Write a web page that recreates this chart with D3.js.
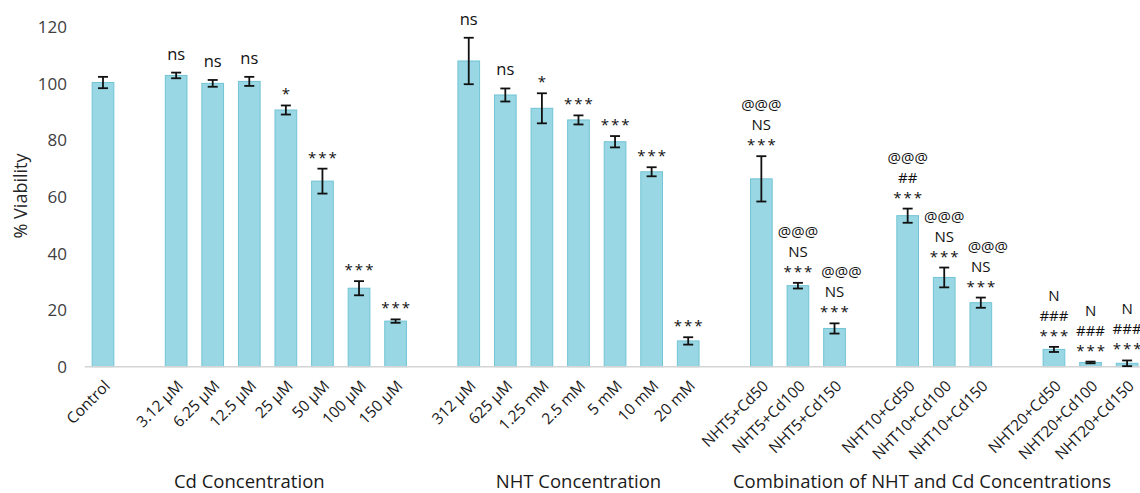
<!DOCTYPE html>
<html>
<head>
<meta charset="utf-8">
<script src="https://cdn.jsdelivr.net/npm/d3@7"></script>
<style>
  html, body { margin: 0; padding: 0; background: #fff; overflow: hidden; }
  svg { display: block; font-family: "Open Sans", "Noto Sans", sans-serif; }
</style>
</head>
<body>
<svg id="chart" width="1140" height="493"></svg>
<script>
// ---- data: % viability (mean) and error (± SD) for each treatment ----
const controlLabels = ["Control"];
const controlValues = [100.3];
const controlErrors = [2.0];
const controlMarks  = [[]];

const cdLabels = ["3.12 µM", "6.25 µM", "12.5 µM", "25 µM", "50 µM", "100 µM", "150 µM"];
const cdValues = [102.8, 100.0, 100.7, 90.6, 65.5, 27.7, 16.1];
const cdErrors = [1.0, 1.2, 1.6, 1.6, 4.4, 2.5, 0.6];
const cdMarks  = [["ns"], ["ns"], ["ns"], ["*"], ["***"], ["***"], ["***"]];

const nhtLabels = ["312 µM", "625 µM", "1.25 mM", "2.5 mM", "5 mM", "10 mM", "20 mM"];
const nhtValues = [107.9, 95.9, 91.2, 87.1, 79.4, 68.8, 9.1];
const nhtErrors = [8.2, 2.3, 5.3, 1.6, 2.0, 1.6, 1.3];
const nhtMarks  = [["ns"], ["ns"], ["*"], ["***"], ["***"], ["***"], ["***"]];

const comboLabels = ["NHT5+Cd50", "NHT5+Cd100", "NHT5+Cd150",
                     "NHT10+Cd50", "NHT10+Cd100", "NHT10+Cd150",
                     "NHT20+Cd50", "NHT20+Cd100", "NHT20+Cd150"];
const comboValues = [66.3, 28.6, 13.5, 53.3, 31.5, 22.6, 6.1, 1.5, 1.2];
const comboErrors = [8.0, 1.0, 1.8, 2.5, 3.5, 1.8, 0.9, 0.3, 1.0];
const comboMarks  = [["@@@", "NS", "***"], ["@@@", "NS", "***"], ["@@@", "NS", "***"],
                     ["@@@", "##", "***"], ["@@@", "NS", "***"], ["@@@", "NS", "***"],
                     ["N", "###", "***"], ["N", "###", "***"], ["N", "###", "***"]];

const groupTitles = ["Cd Concentration", "NHT Concentration", "Combination of NHT and Cd Concentrations"];
const yTicks = [0, 20, 40, 60, 80, 100, 120];
const yTitle = "% Viability";

// ---- build the record list and the slot order (an empty slot separates clusters) ----
function rows(labels, values, errors, marks) {
  return labels.map((l, i) => ({ label: l, value: values[i], err: errors[i], marks: marks[i] }));
}
const clusters = [
  rows(controlLabels, controlValues, controlErrors, controlMarks),
  rows(cdLabels, cdValues, cdErrors, cdMarks),
  rows(nhtLabels, nhtValues, nhtErrors, nhtMarks),
  rows(comboLabels.slice(0, 3), comboValues.slice(0, 3), comboErrors.slice(0, 3), comboMarks.slice(0, 3)),
  rows(comboLabels.slice(3, 6), comboValues.slice(3, 6), comboErrors.slice(3, 6), comboMarks.slice(3, 6)),
  rows(comboLabels.slice(6), comboValues.slice(6), comboErrors.slice(6), comboMarks.slice(6))
];
const slots = [];
const bars = [];
clusters.forEach((c, ci) => {
  if (ci > 0) slots.push("__gap" + ci);
  c.forEach(d => { slots.push(d.label); bars.push(d); });
});

// ---- layout ----
const svg = d3.select("#chart");
const baseY = 366.7, topY = 26.7;
const x = d3.scaleBand()
  .domain(slots)
  .range([84.7, 1145.4])
  .paddingInner(0.407)
  .paddingOuter(0.2035);
const y = d3.scaleLinear().domain([0, 120]).range([baseY, topY]);
const cx = k => x(k) + x.bandwidth() / 2;

// y axis (labels only, no axis line)
const yAxis = d3.axisLeft(y).tickValues(yTicks).tickSize(0).tickPadding(0);
const gy = svg.append("g").attr("transform", "translate(67,0)").call(yAxis);
gy.select(".domain").remove();
gy.selectAll("text")
  .attr("font-size", 17).attr("fill", "#404040")
  .attr("font-family", "'Open Sans', sans-serif")
  .attr("dy", "0.35em");

svg.append("text")
  .attr("transform", `translate(27,196) rotate(-90)`)
  .attr("text-anchor", "middle")
  .attr("font-size", 18).attr("fill", "#262626")
  .text(yTitle);

// bars
svg.append("g").selectAll("rect").data(bars).join("rect")
  .attr("x", d => x(d.label))
  .attr("y", d => y(d.value))
  .attr("width", x.bandwidth())
  .attr("height", d => baseY - y(d.value))
  .attr("fill", "#98d7e3")
  .attr("stroke", "#72c4d5")
  .attr("stroke-width", 1);

// baseline
svg.append("line")
  .attr("x1", x.range()[0]).attr("x2", 1140)
  .attr("y1", baseY).attr("y2", baseY)
  .attr("stroke", "#d4d4d4").attr("stroke-width", 1.5);

// error bars
const eg = svg.append("g").attr("stroke", "#111").attr("stroke-width", 1.8).attr("fill", "none");
bars.forEach(d => {
  const c = cx(d.label), y1 = y(d.value + d.err), y2 = y(d.value - d.err);
  eg.append("line").attr("x1", c).attr("x2", c).attr("y1", y1).attr("y2", y2);
  eg.append("line").attr("x1", c - 5).attr("x2", c + 5).attr("y1", y1).attr("y2", y1);
  eg.append("line").attr("x1", c - 5).attr("x2", c + 5).attr("y1", y2).attr("y2", y2);
});

// significance marks stacked above each error bar
const ag = svg.append("g").attr("fill", "#111").attr("text-anchor", "middle");
bars.forEach((d, bi) => {
  const top = y(d.value + d.err);
  const n = d.marks.length;
  // the third bar of each combination cluster carries its top mark slightly to the right
  const lastInCluster = comboLabels.indexOf(d.label) % 3 === 2 && comboLabels.indexOf(d.label) < 6;
  d.marks.forEach((m, i) => {
    const fromBottom = n - 1 - i;
    const isStar = /^\*+$/.test(m);
    const first = /^\*+$/.test(d.marks[n - 1]) ? 6 : 13;
    const base = top - first - fromBottom * 20;
    ag.append("text")
      .attr("x", cx(d.label) + (isStar ? 1 : 0) + (lastInCluster && m === "@@@" ? 7 : 0))
      .attr("y", base)
      .attr("font-size", m === "ns" ? 16.5 : 15)
      .attr("letter-spacing", isStar ? 2 : 0)
      .text(m);
  });
});

// rotated category labels
svg.append("g").selectAll("text").data(bars).join("text")
  .attr("transform", d => `translate(${cx(d.label) + 8},387) rotate(-45)`)
  .attr("text-anchor", "end")
  .attr("font-size", 15.5)
  .attr("fill", "#1a1a1a")
  .text(d => d.label);

// group titles under the category labels
const titlePos = [
  (cx("Control") + cx("150 µM")) / 2,
  (cx("312 µM") + cx("20 mM")) / 2,
  (x("__gap3") + x.bandwidth() / 2 + cx("NHT20+Cd150")) / 2 - 4
];
svg.append("g").selectAll("text").data(groupTitles).join("text")
  .attr("x", (d, i) => titlePos[i])
  .attr("y", 488)
  .attr("text-anchor", "middle")
  .attr("font-size", 18.5)
  .attr("fill", "#1a1a1a")
  .text(d => d);
</script>
</body>
</html>
